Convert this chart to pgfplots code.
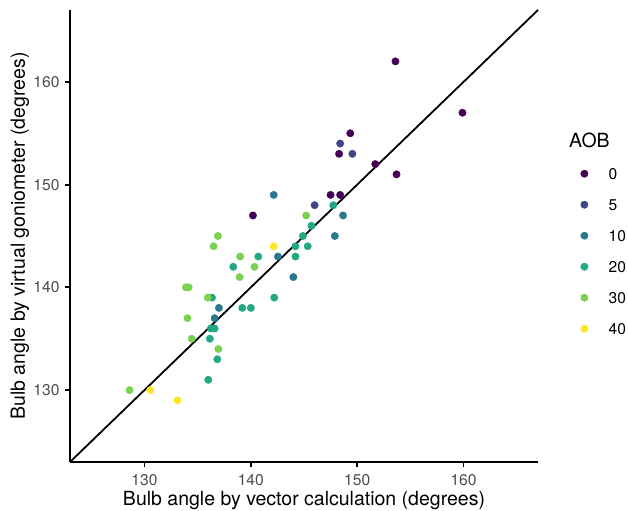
\documentclass[border=0pt]{standalone}
\usepackage{fontspec}
\setmainfont{TeX Gyre Heros}
\usepackage{pgfplots}
\pgfplotsset{compat=1.18}

\definecolor{c0}{HTML}{440154}
\definecolor{c5}{HTML}{414487}
\definecolor{c10}{HTML}{2A788E}
\definecolor{c20}{HTML}{22A884}
\definecolor{c30}{HTML}{7AD151}
\definecolor{c40}{HTML}{FDE725}
\definecolor{ticktext}{HTML}{4D4D4D}

\pgfplotsset{
  pt/.style={only marks, color=#1, mark=*, mark size=3.7bp,
    mark options={draw=#1, fill=#1, line width=0.4bp}},
}

\begin{document}
\begin{tikzpicture}
\begin{axis}[
    scale only axis,
    width=468bp, height=452bp,
    xmin=123, xmax=167, ymin=123, ymax=167,
    xtick={130,140,150,160}, ytick={130,140,150,160},
    xticklabel={\pgfmathprintnumber[assume math mode=true]{\tick}},
    yticklabel={\pgfmathprintnumber[assume math mode=true]{\tick}},
    axis x line*=bottom, axis y line*=left,
    axis line style={-, black, line width=1.8bp},
    tick align=outside, major tick length=5bp,
    tick style={black, line width=1.8bp},
    /pgf/number format/assume math mode=true,
    tick label style={font=\fontsize{15.6bp}{18bp}\selectfont, text=ticktext},
    xticklabel style={yshift=-4bp},
    yticklabel style={xshift=-2bp},
    label style={font=\fontsize{19.5bp}{22bp}\selectfont},
    xlabel={Bulb angle by vector calculation (degrees)},
    ylabel={Bulb angle by virtual goniometer (degrees)},
    xlabel style={at={(rel axis cs:0.5,0)}, anchor=center, yshift=-39bp},
    ylabel style={at={(rel axis cs:0,0.5)}, anchor=center, yshift=50bp},
    clip=false,
    legend cell align=left,
    legend image code/.code={\path (-8bp,0bp) (22bp,0bp); \draw[#1] plot coordinates {(0bp,0bp)};},
    legend style={at={(rel axis cs:1,1)}, anchor=north west, xshift=38bp, yshift=-156bp,
      draw=none, fill=none, inner sep=0pt, row sep=16bp,
      font=\fontsize{15.6bp}{18bp}\selectfont,
      nodes={inner sep=2bp, text height=11bp, text depth=0bp}},
]
\addplot[black, line width=1.8bp, forget plot] coordinates {(123,123) (167,167)};

\addplot[pt=c0] coordinates {
  (153.6,162) (159.9,157) (149.35,155) (148.3,153) (151.7,152)
  (153.7,151) (147.5,149) (148.4,149) (140.2,147)
};
\addplot[pt=c5] coordinates {
  (148.4,154) (149.55,153) (146.0,148)
};
\addplot[pt=c10] coordinates {
  (142.15,149) (148.67,147) (147.9,145) (142.55,143) (144.0,141)
  (137.0,138) (136.6,137)
};
\addplot[pt=c20] coordinates {
  (147.75,148) (145.7,146) (144.9,145) (144.2,144) (145.35,144)
  (140.7,143) (144.2,143) (138.35,142) (136.35,139) (142.2,139)
  (139.2,138) (140.0,138) (136.25,136) (136.6,136) (136.15,135)
  (136.85,133) (136.0,131)
};
\addplot[pt=c30] coordinates {
  (145.2,147) (136.9,145) (136.5,144) (139.0,143) (140.35,142)
  (138.95,141) (133.9,140) (134.15,140) (135.95,139) (134.05,137)
  (134.45,135) (136.95,134) (128.6,130)
};
\addplot[pt=c40] coordinates {
  (142.15,144) (130.55,130) (133.1,129)
};
\legend{0,5,10,20,30,40}

\node[anchor=west, inner sep=0pt, font=\fontsize{19.5bp}{22bp}\selectfont]
  at (rel axis cs:1,1) [xshift=31bp, yshift=-130bp] {AOB};
\coordinate (bbsw) at (rel axis cs:0,0);
\end{axis}
\pgfresetboundingbox
\path ([xshift=-70bp,yshift=-49bp]bbsw) rectangle ([xshift=558bp,yshift=462bp]bbsw);
\end{tikzpicture}
\end{document}
